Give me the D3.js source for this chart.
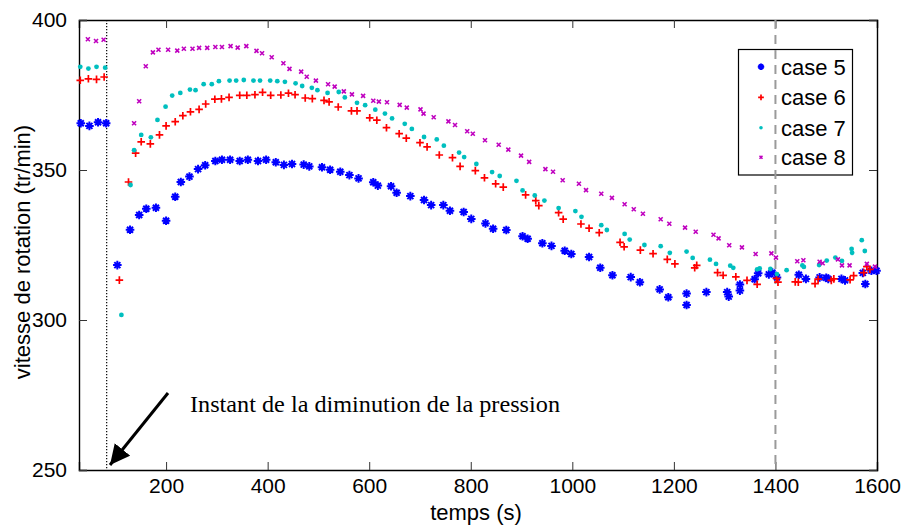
<!DOCTYPE html>
<html><head><meta charset="utf-8">
<script src="https://cdn.jsdelivr.net/npm/d3@7/dist/d3.min.js"></script>
<style>
body{margin:0;background:#fff;}
svg text{font-family:Arial,"Liberation Sans",sans-serif;fill:#000;}
</style></head>
<body><svg id="c" width="902" height="525"></svg>
<script>
// ---- data ----
const xTicks = [200,400,600,800,1000,1200,1400,1600];
const yTicks = [250,300,350,400];
const seriesNames = ["case 5","case 6","case 7","case 8"];
const seriesColors = ["#0000ff","#ff0000","#00bfbf","#bf00bf"];
const pressureDropTime = 83;
const markerTime = 1400;

const case5T = [32,49,66,82,104,129,147,161,180,200,218,229,246,263,277,297,310,326,345,361,381,397,416,432,448,471,482,507,523,543,561,579,608,617,643,654,681,708,722,746,759,786,801,829,844,870,902,912,941,959,985,998,1033,1055,1079,1115,1133,1172,1189,1225,1225,1264,1305,1308,1330,1330,1359,1366,1387,1394,1403,1446,1460,1487,1500,1504,1530,1537,1572,1577,1589,1599];
const case5V = [365.6,364.7,365.9,365.6,318.3,330.1,335,337.1,337.4,333.1,341.1,346,347.8,350.3,351.6,353,353.4,353.4,353,353.4,353,353.4,352.6,351.7,352,351.8,351.2,350.9,350.1,349.4,348.3,347.2,345.9,344.8,344.6,342.4,341.3,340,338.3,338.3,336.4,336,333.7,332.2,330.4,330,327.9,327.1,325.6,324.7,323.1,322,321,317.4,314.9,314.3,312.6,310.2,307.6,308.8,305,309.3,309.3,307.8,311.8,309.8,313.6,315.6,315.2,315.8,314.2,315.1,313.7,314.2,314.1,313.7,313.7,313.2,315.7,312,316.4,316.4];

const case6T = [31,47,63,78,108,126,140,151,169,187,200,218,233,248,265,278,296,309,324,345,359,375,390,406,426,441,454,474,488,511,521,539,565,576,601,615,634,659,673,700,714,738,764,779,809,827,849,864,908,928,934,973,982,1017,1033,1053,1094,1102,1134,1159,1187,1202,1241,1245,1286,1297,1322,1344,1364,1402,1405,1439,1445,1478,1484,1510,1515,1547,1554,1574,1580,1586];
const case6V = [379.9,380.4,380.2,381,313.3,346,355.6,359.4,358.7,361.7,364.7,366.1,368.1,369.4,370.2,372,373.6,373.7,374.2,374.9,374.9,375.1,375.9,374.9,375,375.6,375.1,374,373.8,373.2,372.7,371,369.7,369.7,367.4,366.6,364.1,362.1,360.6,359.1,357.7,355,354.1,351.2,349.8,347.4,345.4,344.3,341.7,339.8,338.1,335.8,333.6,332,330.6,329.1,325.9,324.4,323.3,322.1,320.2,318.7,317.4,318.2,315.8,314.9,314.4,313.2,311.9,313.9,312.6,312.7,312.6,312.1,313.6,313.2,313.7,313.4,314.8,315.8,317.8,316.9];

const case7T = [31,47,63,80,112,130,137,151,170,183,199,212,228,247,258,274,290,304,325,338,353,372,385,405,419,434,455,468,487,498,518,540,552,576,592,612,631,645,670,684,708,733,747,777,787,811,842,857,890,902,926,945,973,1006,1018,1057,1068,1103,1113,1142,1174,1192,1225,1237,1271,1283,1311,1317,1364,1369,1390,1403,1422,1453,1456,1486,1501,1518,1531,1550,1551,1570,1576];
const case7V = [384.4,383.8,384.4,384.1,301.7,345,356.6,361.7,360.9,366.7,371.1,374.8,375.7,376.8,376.6,378.6,378.6,379.6,379.8,379.8,380,379.8,379.8,379.8,379.6,379.4,378.9,378,377.4,376.6,375.7,376,374.2,372.4,371.6,370.1,368.8,367.2,365.4,363.7,361,360.2,358.1,355.8,354.3,352,349.3,348,346.4,343.2,341.5,339.8,337.3,336.3,334.4,331.6,330,328.7,326.8,325,324.6,322.4,322.8,320.7,320.1,318.7,318.1,317.4,316.9,317.2,317,315.3,316.6,318.2,317.7,318.3,319.8,320.8,319.7,323.7,322.4,326.6,323];

const case8T = [46,62,77,137,147,160,174,185,204,222,235,252,265,281,297,310,327,341,358,378,389,408,431,443,466,477,495,519,532,550,566,588,608,619,635,660,674,701,707,727,756,769,793,804,828,855,874,899,915,947,962,981,1013,1027,1057,1078,1103,1121,1139,1174,1191,1222,1243,1278,1288,1309,1334,1361,1392,1401,1443,1455,1487,1493,1523,1531,1546,1580,1596];
const case8V = [393.6,393,393.4,365.6,372.9,384.6,389.2,390.1,390.1,389.8,390.4,390.4,390.7,390.7,391,391,391.3,390.8,391.3,389.7,388.9,387.6,385.6,383.7,382.8,381.1,379.8,378.6,377.8,376.2,375.2,374.7,373.1,372.8,372.6,371.7,370.8,370.2,368.8,367.6,366.2,365,362.9,362.1,359.9,358.4,356.8,354.8,352.7,350.3,349.4,346.6,345.4,343.3,342.1,340.7,338.6,336.9,335.4,333.6,332.1,330.8,329.4,328.4,327.2,324.9,324.2,322,322.2,320.8,319.6,319.9,319.4,318.9,320.2,318.2,318.2,318.7,317.8];

const annotationText = "Instant de la diminution de la pression";
const xLabel = "temps (s)";
const yLabel = "vitesse de rotation (tr/min)";

// ---- chart ----
const W = 902, H = 525;
const m = {l:79, r:25, t:20, b:55};
const svg = d3.select("#c");
const x = d3.scaleLinear().domain([28.5,1600]).range([m.l, W-m.r]);
const y = d3.scaleLinear().domain([250,400]).range([H-m.b, m.t]);

const series = [
  {T:case5T, V:case5V},
  {T:case6T, V:case6V},
  {T:case7T, V:case7V},
  {T:case8T, V:case8V}
];

function markerPath(i, s){
  if(i===0){ // asterisk
    const d=s*0.7;
    return `M${-s},0L${s},0M0,${-s}L0,${s}M${-d},${-d}L${d},${d}M${-d},${d}L${d},${-d}`;
  }
  if(i===1) return `M${-s},0L${s},0M0,${-s}L0,${s}`;
  if(i===3) return `M${-s},${-s}L${s},${s}M${-s},${s}L${s},${-s}`;
  return null;
}
function drawMarker(g, i, cx, cy, scale){
  const col = seriesColors[i];
  if(i===2){
    g.append("circle").attr("cx",cx).attr("cy",cy).attr("r",2.4*scale).attr("fill",col);
  } else {
    const sz = [4.3,3.8,0,2][i]*scale;
    const sw = [2,1.7,0,1.6][i];
    g.append("path").attr("transform",`translate(${cx},${cy})`).attr("d",markerPath(i,sz))
      .attr("stroke",col).attr("stroke-width",sw).attr("fill","none");
  }
}

// axes box
const axisG = svg.append("g");
const xb = d3.axisBottom(x).tickValues(xTicks).tickSize(-8).tickPadding(14).tickFormat(d3.format("d"));
const xt = d3.axisTop(x).tickValues(xTicks).tickSize(-8).tickFormat("");
const yl = d3.axisLeft(y).tickValues(yTicks).tickSize(-8).tickPadding(12).tickFormat(d3.format("d"));
const yr = d3.axisRight(y).tickValues(yTicks).tickSize(-8).tickFormat("");
const gxb = axisG.append("g").attr("transform",`translate(0,${H-m.b})`).call(xb);
const gxt = axisG.append("g").attr("transform",`translate(0,${m.t})`).call(xt);
const gyl = axisG.append("g").attr("transform",`translate(${m.l},0)`).call(yl);
const gyr = axisG.append("g").attr("transform",`translate(${W-m.r},0)`).call(yr);
[gxb,gxt,gyl,gyr].forEach(g=>{
  g.select(".domain").attr("stroke","#000").attr("stroke-width",1.4);
  g.selectAll(".tick line").attr("stroke","#333").attr("stroke-width",1);
  g.selectAll("text").style("font-size","21px").attr("fill","#000");
});
gxb.selectAll(".tick text").attr("dy","0.45em");

// dotted vertical line (pressure drop)
svg.append("line").attr("x1",x(pressureDropTime)).attr("x2",x(pressureDropTime))
  .attr("y1",y(400)).attr("y2",y(250)).attr("stroke","#000").attr("stroke-width",1.2)
  .attr("stroke-dasharray","1.2,1.8");

// legend
const lg = svg.append("g");
lg.append("rect").attr("x",738.5).attr("y",49.5).attr("width",114).attr("height",125.5)
  .attr("fill","none").attr("stroke","#000").attr("stroke-width",1.2);
const legY = [66.7,97.3,127.7,157.3];
seriesNames.forEach((n,i)=>{
  drawMarker(lg,i,761,legY[i],0.75);
  lg.append("text").attr("x",781).attr("y",legY[i]).attr("dy","0.36em").style("font-size","22px").text(n);
});

// dashed line at 1400
svg.append("line").attr("x1",x(markerTime)).attr("x2",x(markerTime))
  .attr("y1",y(400)).attr("y2",y(250)).attr("stroke","#9a9a9a").attr("stroke-width",2)
  .attr("stroke-dasharray","9,6");

// data
series.forEach((s,i)=>{
  const g = svg.append("g");
  s.T.forEach((t,k)=> drawMarker(g,i,x(t),y(s.V[k]),1));
});

// labels
svg.append("text").attr("x",476).attr("y",512).attr("text-anchor","middle").attr("dy","0.35em")
  .style("font-size","22px").text(xLabel);
svg.append("text").attr("transform",`translate(22,252) rotate(-90)`)
  .attr("text-anchor","middle").attr("dy","0.35em").style("font-size","22px").text(yLabel);

// annotation
svg.append("text").attr("x",190).attr("y",412)
  .attr("textLength",370).attr("lengthAdjust","spacingAndGlyphs")
  .style("font-family","'Liberation Serif','Times New Roman',serif").style("font-size","24px")
  .text(annotationText);
svg.append("defs").append("marker").attr("id","ah").attr("viewBox","0 0 10 10")
  .attr("refX",10).attr("refY",5).attr("markerWidth",20).attr("markerHeight",20).attr("orient","auto")
  .attr("markerUnits","userSpaceOnUse")
  .append("path").attr("d","M0,0L10,5L0,10z").attr("fill","#000");
svg.append("line").attr("x1",168).attr("y1",393).attr("x2",110).attr("y2",465)
  .attr("stroke","#000").attr("stroke-width",3).attr("marker-end","url(#ah)");
</script></body></html>
